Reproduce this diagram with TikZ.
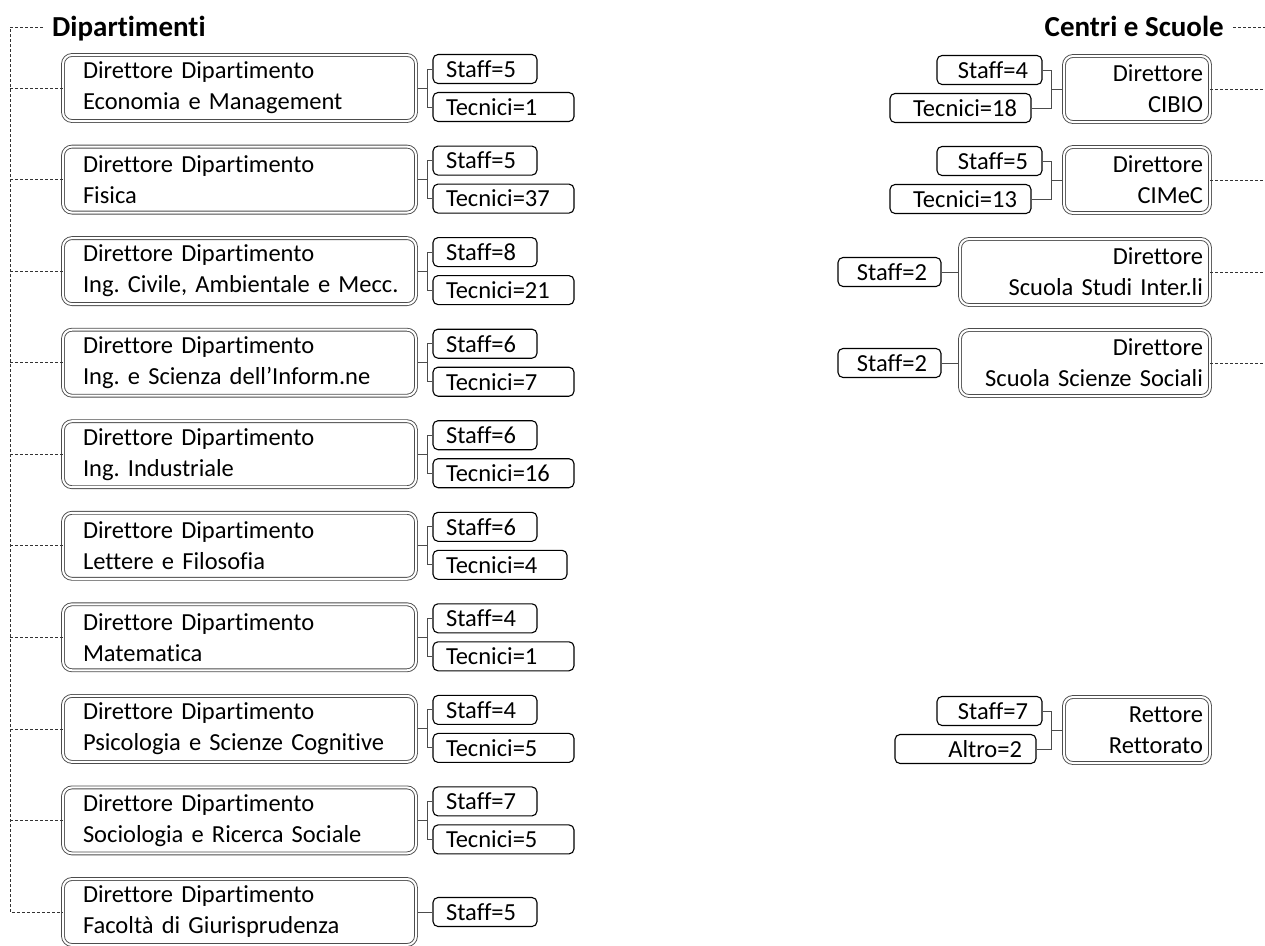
\documentclass[tikz,border=0pt]{standalone}
\usepackage{fontspec}
\setmainfont{Carlito}[Ligatures=NoCommon]
\usetikzlibrary{positioning,calc}
\frenchspacing

\tikzset{
	box/.style = {draw=black!70, double=white, double distance=2pt, line width=0.9pt,
		rounded corners=9pt, minimum height=66pt, font=\fontsize{24.5}{31}\selectfont},
	dept/.style = {box, text width=313pt, align=left, inner xsep=20pt},
	centre/.style = {box, align=right, inner xsep=7pt},
	count/.style = {draw, line width=1.1pt, rounded corners=5pt, minimum height=29pt,
		inner ysep=0pt, font=\fontsize{24.5}{28}\selectfont},
	lcount/.style = {count, align=left, inner xsep=13pt},
	rcount/.style = {count, align=right, inner xsep=14pt},
	link/.style = {black!70, line width=1pt},
	tree/.style = {black!80, dash pattern=on 3pt off 2pt, line width=0.8pt},
	head/.style = {font=\fontsize{29}{32}\selectfont\bfseries, inner xsep=9pt,
		text height=22pt, text depth=3pt}
}

\begin{document}
\begin{tikzpicture}[x=1pt, y=-1pt]
		\useasboundingbox (0,0) rectangle (1265,945);
		\coordinate (ltop) at (10,27);
		\coordinate (redge) at (1265,27);
		
		% headers
		\node[head, anchor=west] (hdep) at (43,27) {Dipartimenti};
		\node[head, anchor=east] (hcen) at (1233,27) {Centri e Scuole};
		
		% departments
		\node[dept] (d1) at (239.5,88) {Direttore Dipartimento\\Economia e Management};
		\node[dept] (d2) at (239.5,179.6) {Direttore Dipartimento\\Fisica};
		\node[dept] (d3) at (239.5,271.1) {Direttore Dipartimento\\\mbox{Ing. Civile, Ambientale e Mecc.}};
		\node[dept] (d4) at (239.5,362.7) {Direttore Dipartimento\\Ing. e Scienza dell’Inform.ne};
		\node[dept] (d5) at (239.5,454.2) {Direttore Dipartimento\\Ing. Industriale};
		\node[dept] (d6) at (239.5,545.8) {Direttore Dipartimento\\Lettere e Filosofia};
		\node[dept] (d7) at (239.5,637.3) {Direttore Dipartimento\\Matematica};
		\node[dept] (d8) at (239.5,728.9) {Direttore Dipartimento\\Psicologia e Scienze Cognitive};
		\node[dept] (d9) at (239.5,820.4) {Direttore Dipartimento\\Sociologia e Ricerca Sociale};
		\node[dept] (d10) at (239.5,912) {Direttore Dipartimento\\Facoltà di Giurisprudenza};
		
		\foreach \d/\s/\t/\w in {1/5/1/115, 2/5/37/115, 3/8/21/115, 4/6/7/115, 5/6/16/115,
			6/6/4/108, 7/4/1/115, 8/4/5/115, 9/7/5/115}{
			\node[lcount, text width=78pt, right=16pt of d\d.east, yshift=19pt] (s\d) {Staff=\s};
			\node[lcount, text width=\w pt, right=16pt of d\d.east, yshift=-19pt] (t\d) {Tecnici=\t};
			\draw[link, shorten <=1.9pt] (d\d.east) -- ++(11,0) coordinate (b\d) |- (s\d.west);
			\draw[link] (b\d) |- (t\d.west);
		}
		\node[lcount, text width=78pt, right=16pt of d10.east] (s10) {Staff=5};
		\draw[link, shorten <=1.9pt] (d10.east) -- (s10.west);
		
		% centres and schools
		\node[centre, text width=132pt] (c1) at (1137,89) {Direttore\\CIBIO};
		\node[centre, text width=132pt] (c2) at (1137,180) {Direttore\\CIMeC};
		\node[centre, text width=236pt] (c3) at (1085,272) {Direttore\\Scuola Studi Inter.li};
		\node[centre, text width=236pt] (c4) at (1085,363) {Direttore\\Scuola Scienze Sociali};
		\node[centre, text width=132pt] (c5) at (1137,730) {Rettore\\Rettorato};
		
		\node[rcount, text width=77pt, left=21pt of c1.west, yshift=19pt] (cs1) {Staff=4};
		\node[rcount, text width=113pt, left=32pt of c1.west, yshift=-19pt] (ct1) {Tecnici=18};
		\node[rcount, text width=77pt, left=21pt of c2.west, yshift=19pt] (cs2) {Staff=5};
		\node[rcount, text width=113pt, left=32pt of c2.west, yshift=-19pt] (ct2) {Tecnici=13};
		\node[rcount, text width=75pt, left=18pt of c3.west] (cs3) {Staff=2};
		\node[rcount, text width=75pt, left=18pt of c4.west] (cs4) {Staff=2};
		\node[rcount, text width=77pt, left=21pt of c5.west, yshift=19pt] (cs5) {Staff=7};
		\node[rcount, text width=113pt, left=27pt of c5.west, yshift=-19pt] (ct5) {Altro=2};
		
		\foreach \c in {1,2,5}{
			\draw[link, shorten <=1.9pt] (c\c.west) -- ++(-12,0) coordinate (e\c) |- (cs\c.east);
			\draw[link] (e\c) |- (ct\c.east);
		}
		\draw[link, shorten <=1.9pt] (c3.west) -- (cs3.east);
		\draw[link, shorten <=1.9pt] (c4.west) -- (cs4.east);
		
		% dashed tree lines
		\draw[tree] (hdep.west) -- (ltop) |- (d10.west);
		\foreach \d in {1,...,9}
			\draw[tree] (d\d.west -| ltop) -- (d\d.west);
		\draw[tree] (hcen.east) -- (redge);
		\foreach \c in {1,...,4}
			\draw[tree] (c\c.east) -- (c\c.east -| redge);
	\end{tikzpicture}
\end{document}
